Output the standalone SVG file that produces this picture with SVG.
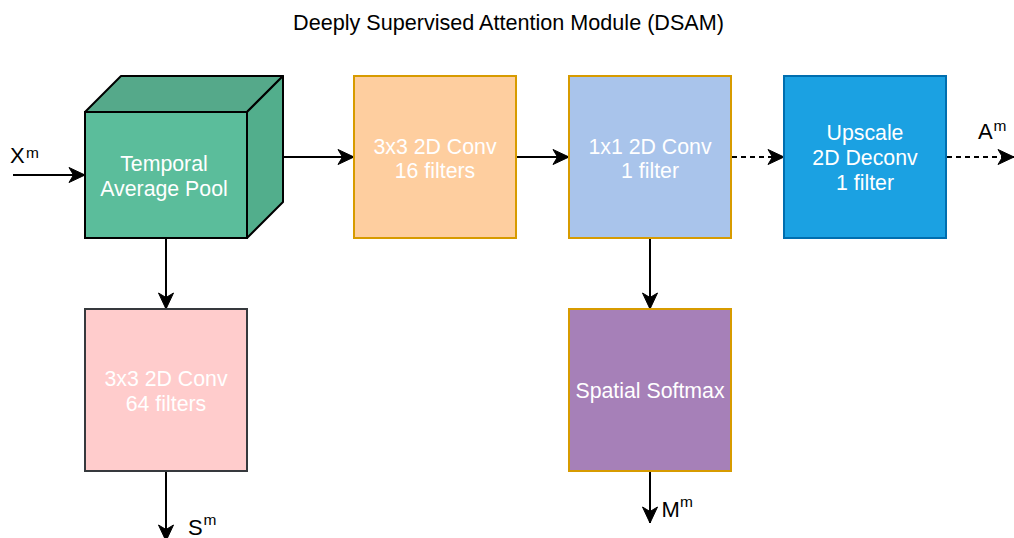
<svg xmlns="http://www.w3.org/2000/svg" width="1014" height="538" viewBox="0 0 1014 538">
  <style>
    text { font-family: "Liberation Sans", Arial, Helvetica, sans-serif; }
    .title { font-size: 21.6px; fill: #000; }
    .lbl { font-size: 21.3px; fill: #fff; text-anchor: middle; }
    .io { font-size: 22px; fill: #000; }
    .sup { font-size: 15.5px; }
    .edge { fill: none; stroke: #000; stroke-width: 2; }
    .dash { stroke-dasharray: 5 4; }
    .box { stroke-width: 2; }
  </style>
  <defs>
    <marker id="arrow" markerUnits="userSpaceOnUse" markerWidth="20" markerHeight="20" viewBox="-18 -10 20 20" refX="0" refY="0" orient="auto">
      <path d="M0,0 L-16,-7.5 L-11.5,0 L-16,7.5 Z" fill="#000" stroke="#000" stroke-width="1"/>
    </marker>
  </defs>

  <rect width="1014" height="538" fill="#fff"/>

  <text class="title" x="508.5" y="30" text-anchor="middle">Deeply Supervised Attention Module (DSAM)</text>

  <!-- connectors -->
  <g id="connectors">
    <line class="edge" x1="13" y1="175" x2="85" y2="175" marker-end="url(#arrow)"/>
    <line class="edge" x1="283" y1="157" x2="354" y2="157" marker-end="url(#arrow)"/>
    <line class="edge" x1="516" y1="157" x2="569" y2="157" marker-end="url(#arrow)"/>
    <line class="edge dash" x1="732" y1="157" x2="784" y2="157" marker-end="url(#arrow)"/>
    <line class="edge dash" x1="947" y1="157" x2="1014" y2="157" marker-end="url(#arrow)"/>
    <line class="edge" x1="166" y1="238" x2="166" y2="309" marker-end="url(#arrow)"/>
    <line class="edge" x1="166" y1="471" x2="166" y2="541" marker-end="url(#arrow)"/>
    <line class="edge" x1="650" y1="238" x2="650" y2="309" marker-end="url(#arrow)"/>
    <line class="edge" x1="650" y1="471" x2="650" y2="523" marker-end="url(#arrow)"/>
  </g>

  <!-- edge labels -->
  <text class="io" x="10" y="163.3">X<tspan class="sup" x="26" y="158.3">m</tspan></text>
  <text class="io" x="978" y="139.3">A<tspan class="sup" x="993.5" y="130.7">m</tspan></text>
  <text class="io" x="188" y="535">S<tspan class="sup" x="203.5" y="525">m</tspan></text>
  <text class="io" x="661.5" y="516.7">M<tspan class="sup" x="680" y="507">m</tspan></text>

  <!-- temporal average pool (cube) -->
  <g id="temporal-pool">
    <polygon points="85,112 121,76 283,76 247,112" fill="#55a98a" stroke="#000" stroke-width="2" stroke-linejoin="round"/>
    <polygon points="247,112 283,76 283,202 247,238" fill="#52ae8c" stroke="#000" stroke-width="2" stroke-linejoin="round"/>
    <rect x="85" y="112" width="162" height="126" fill="#5bbd9b" stroke="#000" stroke-width="2"/>
    <text class="lbl" x="164" y="171">Temporal</text>
    <text class="lbl" x="164" y="195.5">Average Pool</text>
  </g>

  <!-- 3x3 conv, 16 filters -->
  <g id="conv3x3-16">
    <rect class="box" x="354" y="76" width="162" height="162" fill="#fece9f" stroke="#d79b00"/>
    <text class="lbl" x="435" y="153.5">3x3 2D Conv</text>
    <text class="lbl" x="435" y="178">16 filters</text>
  </g>

  <!-- 1x1 conv, 1 filter -->
  <g id="conv1x1">
    <rect class="box" x="569" y="76" width="162" height="162" fill="#a9c4eb" stroke="#d79b00"/>
    <text class="lbl" x="650" y="153.5">1x1 2D Conv</text>
    <text class="lbl" x="650" y="178">1 filter</text>
  </g>

  <!-- upscale deconv -->
  <g id="upscale">
    <rect class="box" x="784" y="76" width="162" height="162" fill="#1ba1e2" stroke="#006eaf"/>
    <text class="lbl" x="865" y="140">Upscale</text>
    <text class="lbl" x="865" y="165">2D Deconv</text>
    <text class="lbl" x="865" y="190">1 filter</text>
  </g>

  <!-- 3x3 conv, 64 filters -->
  <g id="conv3x3-64">
    <rect class="box" x="85" y="309" width="162" height="162" fill="#ffcccc" stroke="#36393d"/>
    <text class="lbl" x="166" y="386">3x3 2D Conv</text>
    <text class="lbl" x="166" y="410.5">64 filters</text>
  </g>

  <!-- spatial softmax -->
  <g id="softmax">
    <rect class="box" x="569" y="309" width="162" height="162" fill="#a680b8" stroke="#d79b00"/>
    <text class="lbl" x="650" y="397.5">Spatial Softmax</text>
  </g>
</svg>
